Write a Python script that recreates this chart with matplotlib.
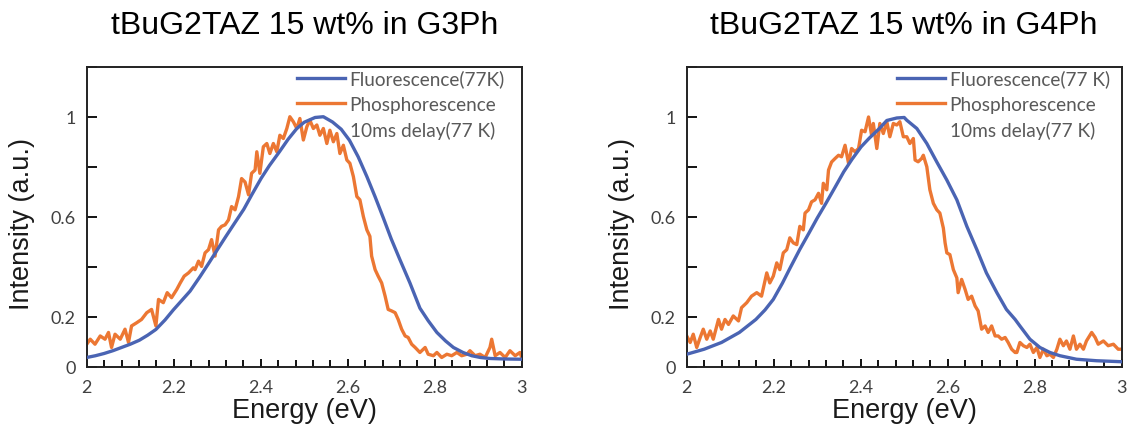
import matplotlib
matplotlib.use("Agg")
import matplotlib.pyplot as plt
from matplotlib.lines import Line2D
from matplotlib.ticker import MultipleLocator, FuncFormatter

# ---- data ----
titles = ["tBuG2TAZ 15 wt% in G3Ph", "tBuG2TAZ 15 wt% in G4Ph"]
fl_labels = ["Fluorescence(77K)", "Fluorescence(77 K)"]
ph_label = "Phosphorescence"
ph_label2 = "10ms delay(77 K)"

# G3Ph, fluorescence (77 K)
e_g3_fl = [2.000, 2.020, 2.040, 2.060, 2.080, 2.100, 2.121, 2.140, 2.159, 2.180,
           2.199, 2.218, 2.2375, 2.260, 2.281, 2.300, 2.320, 2.340, 2.361, 2.380,
           2.401, 2.420, 2.443, 2.463, 2.483, 2.500, 2.525, 2.544, 2.565, 2.585,
           2.604, 2.624, 2.644, 2.663, 2.682, 2.700, 2.720, 2.743, 2.766, 2.785,
           2.805, 2.825, 2.843, 2.865, 2.885, 2.905, 2.927, 2.960, 3.000]
i_g3_fl = [0.038, 0.045, 0.054, 0.065, 0.078, 0.091, 0.107, 0.127, 0.150, 0.188,
           0.228, 0.265, 0.303, 0.360, 0.416, 0.468, 0.522, 0.575, 0.630, 0.690,
           0.754, 0.805, 0.860, 0.910, 0.953, 0.978, 0.997, 1.000, 0.979, 0.950,
           0.906, 0.840, 0.761, 0.680, 0.595, 0.512, 0.429, 0.336, 0.235, 0.185,
           0.138, 0.104, 0.078, 0.058, 0.045, 0.038, 0.034, 0.032, 0.031]

# G3Ph, phosphorescence 10 ms delay (77 K)
e_g3_ph = [2.000, 2.008, 2.019, 2.031, 2.042, 2.050, 2.057, 2.065, 2.077, 2.088,
           2.096, 2.103, 2.115, 2.126, 2.138, 2.149, 2.159, 2.165, 2.176, 2.185,
           2.195, 2.207, 2.215, 2.224, 2.234, 2.245, 2.249, 2.257, 2.264, 2.272,
           2.280, 2.287, 2.295, 2.303, 2.310, 2.318, 2.326, 2.333, 2.341, 2.349,
           2.356, 2.364, 2.372, 2.379, 2.387, 2.391, 2.398, 2.406, 2.414, 2.421,
           2.429, 2.437, 2.444, 2.452, 2.460, 2.467, 2.475, 2.483, 2.490, 2.498,
           2.506, 2.513, 2.521, 2.529, 2.536, 2.544, 2.552, 2.559, 2.567, 2.575,
           2.582, 2.590, 2.598, 2.605, 2.613, 2.621, 2.628, 2.636, 2.644, 2.651,
           2.655, 2.663, 2.670, 2.678, 2.686, 2.693, 2.701, 2.709, 2.716, 2.724,
           2.732, 2.739, 2.747, 2.755, 2.766, 2.778, 2.785, 2.797, 2.805, 2.816,
           2.828, 2.839, 2.851, 2.862, 2.874, 2.881, 2.893, 2.904, 2.916, 2.927,
           2.931, 2.939, 2.950, 2.962, 2.973, 2.985, 2.996, 3.000]
i_g3_ph = [0.091, 0.111, 0.091, 0.124, 0.111, 0.138, 0.078, 0.131, 0.111, 0.151,
           0.098, 0.164, 0.177, 0.190, 0.217, 0.230, 0.164, 0.270, 0.257, 0.297,
           0.277, 0.310, 0.336, 0.363, 0.376, 0.396, 0.389, 0.423, 0.402, 0.456,
           0.469, 0.509, 0.443, 0.548, 0.562, 0.568, 0.588, 0.641, 0.628, 0.681,
           0.753, 0.739, 0.688, 0.774, 0.787, 0.860, 0.774, 0.880, 0.893, 0.853,
           0.893, 0.860, 0.926, 0.913, 0.953, 1.000, 0.980, 0.953, 0.993, 0.907,
           0.960, 0.986, 0.953, 0.967, 0.926, 0.953, 0.893, 0.946, 0.900, 0.933,
           0.853, 0.886, 0.827, 0.814, 0.761, 0.681, 0.668, 0.601, 0.548, 0.522,
           0.443, 0.389, 0.363, 0.336, 0.283, 0.230, 0.224, 0.217, 0.190, 0.151,
           0.124, 0.118, 0.091, 0.078, 0.058, 0.078, 0.051, 0.045, 0.058, 0.038,
           0.051, 0.045, 0.058, 0.045, 0.051, 0.065, 0.045, 0.051, 0.038, 0.078,
           0.111, 0.045, 0.058, 0.038, 0.065, 0.045, 0.058, 0.038]

# G4Ph, fluorescence (77 K)
e_g4_fl = [2.000, 2.040, 2.080, 2.121, 2.159, 2.180, 2.199, 2.220, 2.2375, 2.260,
           2.281, 2.300, 2.320, 2.340, 2.361, 2.380, 2.401, 2.420, 2.443, 2.460,
           2.483, 2.500, 2.506, 2.529, 2.552, 2.575, 2.598, 2.621, 2.644, 2.667,
           2.689, 2.713, 2.735, 2.755, 2.766, 2.789, 2.812, 2.835, 2.858, 2.896,
           2.942, 3.000]
i_g4_fl = [0.051, 0.071, 0.098, 0.138, 0.190, 0.228, 0.270, 0.335, 0.395, 0.470,
           0.535, 0.595, 0.654, 0.715, 0.780, 0.830, 0.880, 0.915, 0.953, 0.985,
           0.995, 0.997, 0.986, 0.953, 0.893, 0.819, 0.747, 0.668, 0.562, 0.469,
           0.376, 0.297, 0.230, 0.190, 0.164, 0.111, 0.078, 0.058, 0.045, 0.031,
           0.025, 0.021]

# G4Ph, phosphorescence 10 ms delay (77 K)
e_g4_ph = [2.000, 2.008, 2.015, 2.023, 2.031, 2.038, 2.046, 2.054, 2.061, 2.073,
           2.080, 2.088, 2.096, 2.107, 2.119, 2.126, 2.138, 2.149, 2.161, 2.172,
           2.184, 2.191, 2.199, 2.207, 2.214, 2.222, 2.230, 2.237, 2.245, 2.253,
           2.260, 2.268, 2.272, 2.280, 2.287, 2.295, 2.303, 2.310, 2.314, 2.322,
           2.326, 2.333, 2.341, 2.349, 2.356, 2.364, 2.372, 2.379, 2.387, 2.395,
           2.402, 2.410, 2.418, 2.425, 2.429, 2.437, 2.444, 2.452, 2.460, 2.467,
           2.475, 2.483, 2.490, 2.498, 2.506, 2.513, 2.521, 2.525, 2.532, 2.540,
           2.544, 2.552, 2.559, 2.567, 2.575, 2.582, 2.590, 2.594, 2.598, 2.605,
           2.613, 2.621, 2.624, 2.632, 2.640, 2.647, 2.655, 2.663, 2.670, 2.678,
           2.686, 2.693, 2.701, 2.709, 2.716, 2.724, 2.732, 2.739, 2.747, 2.755,
           2.759, 2.766, 2.774, 2.782, 2.789, 2.797, 2.805, 2.812, 2.820, 2.828,
           2.835, 2.843, 2.851, 2.858, 2.866, 2.873, 2.881, 2.889, 2.896, 2.904,
           2.912, 2.919, 2.931, 2.939, 2.946, 2.958, 2.969, 2.981, 2.992, 3.000]
i_g4_ph = [0.124, 0.098, 0.131, 0.078, 0.118, 0.151, 0.111, 0.144, 0.111, 0.190,
           0.151, 0.190, 0.170, 0.204, 0.184, 0.237, 0.257, 0.283, 0.297, 0.283,
           0.376, 0.336, 0.363, 0.416, 0.389, 0.456, 0.469, 0.516, 0.496, 0.489,
           0.562, 0.548, 0.615, 0.628, 0.660, 0.668, 0.694, 0.654, 0.734, 0.708,
           0.787, 0.819, 0.833, 0.846, 0.840, 0.886, 0.814, 0.873, 0.860, 0.873,
           0.946, 0.940, 0.999, 0.926, 0.973, 0.873, 0.973, 0.933, 0.980, 0.920,
           0.973, 0.967, 0.980, 0.920, 0.920, 0.893, 0.913, 0.827, 0.820, 0.833,
           0.846, 0.800, 0.708, 0.654, 0.628, 0.615, 0.555, 0.496, 0.456, 0.449,
           0.389, 0.356, 0.297, 0.350, 0.310, 0.270, 0.283, 0.244, 0.224, 0.151,
           0.164, 0.138, 0.164, 0.124, 0.124, 0.111, 0.118, 0.098, 0.071, 0.058,
           0.058, 0.098, 0.085, 0.078, 0.091, 0.058, 0.078, 0.038, 0.071, 0.045,
           0.051, 0.038, 0.071, 0.111, 0.085, 0.104, 0.071, 0.124, 0.071, 0.091,
           0.071, 0.104, 0.138, 0.118, 0.091, 0.104, 0.085, 0.091, 0.071, 0.071]

panels = [
    (e_g3_fl, i_g3_fl, e_g3_ph, i_g3_ph),
    (e_g4_fl, i_g4_fl, e_g4_ph, i_g4_ph),
]

BLUE = "#4a64b3"
ORANGE = "#ec7733"
TICK_GRAY = "#404040"
LEG_GRAY = "#595959"

fig = plt.figure(figsize=(11.28, 4.27), dpi=100)
axes_pos = [[0.0769, 0.1382, 0.3856, 0.7033],
            [0.6088, 0.1382, 0.3856, 0.7033]]


def ylab(v, pos):
    # only 0, 0.2, 0.6 and 1 carry a label
    for skip in (0.4, 0.8, 1.2):
        if abs(v - skip) < 1e-6:
            return ""
    if abs(v) < 1e-6:
        return "0"
    if abs(v - 1) < 1e-6:
        return "1"
    return f"{v:.1f}"


for k, (ef, fl, ep, ph) in enumerate(panels):
    ax = fig.add_axes(axes_pos[k])
    l1, = ax.plot(ef, fl, color=BLUE, lw=2.4, zorder=3)
    l2, = ax.plot(ep, ph, color=ORANGE, lw=2.4, zorder=2)

    ax.set_xlim(2, 3)
    ax.set_ylim(0, 1.2)
    ax.xaxis.set_major_locator(MultipleLocator(0.2))
    ax.xaxis.set_minor_locator(MultipleLocator(0.04))
    ax.xaxis.set_major_formatter(FuncFormatter(lambda v, p: f"{v:g}"))
    ax.yaxis.set_major_locator(MultipleLocator(0.2))
    ax.yaxis.set_major_formatter(FuncFormatter(ylab))

    ax.tick_params(axis="x", which="major", direction="in", length=6, width=1.3,
                   pad=9, labelsize=13, labelcolor=TICK_GRAY, top=False)
    ax.tick_params(axis="x", which="minor", direction="in", length=5, width=1.3, top=False)
    ax.tick_params(axis="y", which="major", direction="in", length=7, width=1.3,
                   pad=8, labelsize=13, labelcolor=TICK_GRAY, right=False)
    for lab in ax.get_xticklabels() + ax.get_yticklabels():
        lab.set_family("Lato")
    for s in ax.spines.values():
        s.set_linewidth(1.4)
        s.set_color("#222222")

    ax.set_xlabel("Energy (eV)", fontsize=19.5, family="Liberation Sans",
                  color="#1a1a1a", labelpad=1)
    ax.set_ylabel("Intensity (a.u.)", fontsize=19.5, family="Liberation Sans",
                  color="#1a1a1a")
    ax.yaxis.set_label_coords(-0.118, 0.48)
    ax.set_title(titles[k], fontsize=23, family="Liberation Sans", pad=24)

    blank = Line2D([], [], color="none")
    leg = ax.legend([l1, l2, blank], [fl_labels[k], ph_label, ph_label2],
                    loc="upper left", bbox_to_anchor=(0.483, 0.99), frameon=False,
                    borderpad=0, borderaxespad=0, handlelength=2.55,
                    handletextpad=0.22, labelspacing=0.42,
                    prop={"family": "Lato", "size": 13.7})
    for t in leg.get_texts():
        t.set_color(LEG_GRAY)

fig.savefig("out.png", dpi=100)
